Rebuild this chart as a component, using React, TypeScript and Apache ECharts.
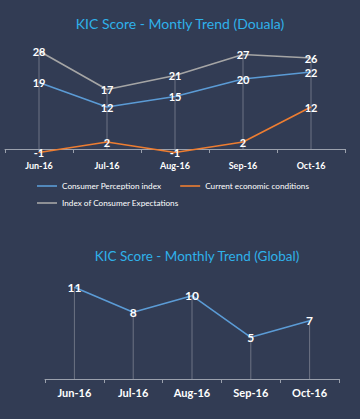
import React, { useEffect, useRef } from "react";
import * as echarts from "echarts";

const months = ["Jun-16", "Jul-16", "Aug-16", "Sep-16", "Oct-16"];
const perception = [19, 12, 15, 20, 22];
const economic = [-1, 2, -1, 2, 12];
const expectations = [28, 17, 21, 27, 26];
const globalScore = [11, 8, 10, 5, 7];

const BG = "#323c54";
const FONT = "Lato, 'Open Sans', sans-serif";

export default function App() {
  const ref = useRef<HTMLDivElement>(null);
  useEffect(() => {
    document.body.style.margin = "0";
    const chart = echarts.init(ref.current!, null, { renderer: "svg" });
    const topDrop = months.map((_, i) => Math.max(perception[i], economic[i], expectations[i]));
    const lbl = (size: number) => ({
      show: true,
      position: "inside",
      color: "#ffffff",
      fontSize: size,
      fontFamily: FONT,
      fontWeight: "bold",
    });
    const lineS = (name: string, data: number[], color: string, xi: number, size: number) => ({
      type: "line",
      name,
      data,
      xAxisIndex: xi,
      yAxisIndex: xi,
      symbol: "circle",
      symbolSize: 1,
      itemStyle: { color },
      lineStyle: { color, width: 1.6 },
      label: lbl(size),
      z: 3,
    });
    const xAx = (gi: number, size: number, weight: string, margin: number) => ({
      type: "category",
      gridIndex: gi,
      data: months,
      axisLine: { onZero: true, lineStyle: { color: "#9ba1ad", width: 1 } },
      axisTick: { show: true, length: 4, lineStyle: { color: "#9ba1ad" } },
      axisLabel: { color: "#ffffff", fontSize: size, fontFamily: FONT, fontWeight: weight, margin },
    });
    const yAx = (gi: number, min: number, max: number) => ({
      type: "value",
      gridIndex: gi,
      min,
      max,
      show: false,
      splitLine: { show: false },
    });
    const legendText = { color: "#ffffff", fontSize: 8.2, fontFamily: FONT };
    chart.setOption({
      animation: false,
      backgroundColor: BG,
      textStyle: { fontFamily: FONT },
      title: [
        {
          text: "KIC Score - Montly Trend (Douala)",
          left: 175,
          top: 11,
          textAlign: "center",
          textStyle: { color: "#2fb1ea", fontSize: 14, fontWeight: "normal", fontFamily: FONT },
        },
        {
          text: "KIC Score - Monthly Trend (Global)",
          left: 192,
          top: 244,
          textAlign: "center",
          textStyle: { color: "#2fb1ea", fontSize: 13.5, fontWeight: "normal", fontFamily: FONT },
        },
      ],
      legend: [
        {
          data: ["Consumer Perception index", "Current economic conditions"],
          left: 32,
          top: 177,
          icon: "rect",
          itemWidth: 20,
          itemHeight: 1.6,
          itemGap: 19,
          textStyle: legendText,
        },
        {
          data: ["Index of Consumer Expectations"],
          left: 32,
          top: 194,
          icon: "rect",
          itemWidth: 20,
          itemHeight: 1.6,
          textStyle: legendText,
        },
      ],
      grid: [
        { left: 5, width: 340, top: 44, height: 112 },
        { left: 45, width: 294, top: 279, height: 100 },
      ],
      xAxis: [xAx(0, 9, "bold", 5), xAx(1, 11, "bold", 8)],
      yAxis: [yAx(0, -2, 30), yAx(1, 0, 12)],
      series: [
        {
          type: "bar",
          data: topDrop,
          xAxisIndex: 0,
          yAxisIndex: 0,
          barWidth: 1,
          itemStyle: { color: "#6d7384" },
          silent: true,
          z: 1,
        },
        lineS("Consumer Perception index", perception, "#5b9bd5", 0, 11),
        lineS("Current economic conditions", economic, "#ed7d31", 0, 11),
        lineS("Index of Consumer Expectations", expectations, "#a5a5a5", 0, 11),
        {
          type: "bar",
          data: globalScore,
          xAxisIndex: 1,
          yAxisIndex: 1,
          barWidth: 1,
          itemStyle: { color: "#6d7384" },
          silent: true,
          z: 1,
        },
        lineS("Global", globalScore, "#5b9bd5", 1, 12),
      ],
    });
    return () => chart.dispose();
  }, []);
  return <div ref={ref} style={{ width: 360, height: 419 }} />;
}
